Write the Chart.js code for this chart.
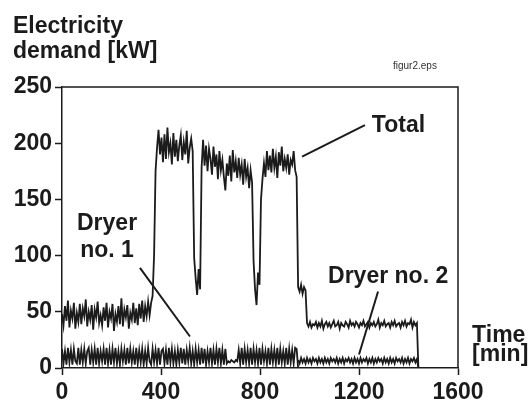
<!DOCTYPE html>
<html>
<head>
<meta charset="utf-8">
<script src="https://cdn.jsdelivr.net/npm/chart.js@4.4.1/dist/chart.umd.min.js"></script>
<style>
  body { margin: 0; background: #fff; }
  canvas { display: block; }
</style>
</head>
<body>
<canvas id="demandChart" width="528" height="403"></canvas>
<script>
// sample times [min] for total and dryer no. 1 (read every 6 min)
const sampleTimes = [
  0,6,12,18,24,30,36,42,48,54,
  60,66,72,78,84,90,96,102,108,114,
  120,126,132,138,144,150,156,162,168,174,
  180,186,192,198,204,210,216,222,228,234,
  240,246,252,258,264,270,276,282,288,294,
  300,306,312,318,324,330,336,342,348,354,
  360,366,372,378,384,390,396,402,408,414,
  420,426,432,438,444,450,456,462,468,474,
  480,486,492,498,504,510,516,522,528,534,
  540,546,552,558,564,570,576,582,588,594,
  600,606,612,618,624,630,636,642,648,654,
  660,666,672,678,684,690,696,702,708,714,
  720,726,732,738,744,750,756,762,768,774,
  780,786,792,798,804,810,816,822,828,834,
  840,846,852,858,864,870,876,882,888,894,
  900,906,912,918,924,930,936,942,948,954,
  960,966,972,978,984,990,996,1002,1008,1014,
  1020,1026,1032,1038,1044,1050,1056,1062,1068,1074,
  1080,1086,1092,1098,1104,1110,1116,1122,1128,1134,
  1140,1146,1152,1158,1164,1170,1176,1182,1188,1194,
  1200,1206,1212,1218,1224,1230,1236,1242,1248,1254,
  1260,1266,1272,1278,1284,1290,1296,1302,1308,1314,
  1320,1326,1332,1338,1344,1350,1356,1362,1368,1374,
  1380,1386,1392,1398,1404,1410,1416,1422,1428,1434,
  1440
];

// total demand [kW]
const totalDemand = [
  48,38,55,42,60,36,51,44,58,35,
  49,41,57,39,53,46,61,37,50,43,
  56,34,52,45,59,40,47,38,54,42,
  58,36,50,44,57,33,48,41,55,39,
  62,37,52,45,56,35,49,43,58,40,
  53,38,57,44,60,41,55,46,59,47,
  58,64,100,175,196,212,190,205,183,208,
  186,214,192,200,181,209,188,203,184,198,
  207,185,201,190,211,182,196,204,193,98,
  80,65,88,70,178,203,180,198,175,195,
  186,172,197,179,190,168,193,176,185,170,
  158,182,171,189,166,194,174,184,169,187,
  172,181,163,186,170,178,160,176,165,95,
  70,56,85,74,150,168,182,170,193,176,
  189,174,195,178,188,169,192,180,197,175,
  186,178,190,172,185,181,193,176,170,72,
  68,74,66,72,69,40,37,41,36,39,
  38,41,36,40,37,42,35,39,41,37,
  40,36,39,42,37,38,41,35,40,38,
  37,41,39,36,42,38,40,37,41,39,
  36,40,38,42,37,39,41,36,40,38,
  41,37,39,43,36,40,38,42,37,39,
  40,36,41,38,42,37,39,40,36,41,
  38,42,37,40,39,43,36,41,38,40,
  0
];

// dryer no. 1 [kW], runs until ~950 min
const dryer1Demand = [
  17,4,15,3,18,5,16,3,17,6,
  4,18,3,16,5,17,4,15,18,3,
  16,5,17,3,18,4,15,6,17,3,
  18,4,16,3,17,5,18,4,15,3,
  17,6,16,3,18,4,17,5,15,3,
  18,4,16,5,17,3,15,4,18,6,
  3,17,5,16,4,18,3,15,17,4,
  16,3,18,5,17,4,15,3,16,5,
  18,4,17,3,16,6,18,4,15,3,
  17,5,16,3,18,4,17,3,15,5,
  18,4,16,3,17,5,18,4,16,3,
  17,4,6,5,7,6,5,7,6,16,
  4,18,3,17,5,16,4,18,3,17,
  5,16,4,18,3,17,6,15,4,18,
  3,17,5,16,4,18,3,17,5,15,
  4,18,3,17,5,16,4,18,17,0
];

// dryer no. 2 [kW], runs from ~950 min
const dryer2Times = [
  954,960,966,972,978,984,990,996,1002,1008,
  1014,1020,1026,1032,1038,1044,1050,1056,1062,1068,
  1074,1080,1086,1092,1098,1104,1110,1116,1122,1128,
  1134,1140,1146,1152,1158,1164,1170,1176,1182,1188,
  1194,1200,1206,1212,1218,1224,1230,1236,1242,1248,
  1254,1260,1266,1272,1278,1284,1290,1296,1302,1308,
  1314,1320,1326,1332,1338,1344,1350,1356,1362,1368,
  1374,1380,1386,1392,1398,1404,1410,1416,1422,1428,
  1434,1440
];
const dryer2Demand = [
  7,4,9,5,8,4,9,5,8,4,
  9,6,8,4,9,5,8,4,9,5,
  8,4,9,6,8,5,9,4,8,5,
  9,4,8,6,9,5,8,4,9,5,
  8,4,9,5,8,6,9,4,8,5,
  9,4,8,5,9,6,8,4,9,5,
  8,4,9,5,8,4,9,6,8,5,
  9,4,8,5,9,4,8,6,9,5,
  8,0
];

const xTicks = [0, 400, 800, 1200, 1600];
const yTicks = [0, 50, 100, 150, 200, 250];

const ink = '#1b1b1b';
const fontFamily = '"Liberation Sans", Arial, Helvetica, sans-serif';
const boldFont = { family: fontFamily, size: 23, weight: 'bold' };

// text labels and pointer lines, placed in data units
const notes = [
  { text: 'Dryer', x: 182, y: 123, align: 'center' },
  { text: 'no. 1', x: 182, y: 99, align: 'center' },
  { text: 'Total', x: 1252, y: 210, align: 'left' },
  { text: 'Dryer no. 2', x: 1075, y: 75.5, align: 'left' },
  { text: 'Time', x: 1657, y: 23, align: 'left' },
  { text: '[min]', x: 1657, y: 6, align: 'left' }
];
const pointers = [
  { from: [315, 89], to: [517, 28] },
  { from: [1224, 216], to: [970, 188] },
  { from: [1277, 68], to: [1200, 12] }
];

const framePlugin = {
  id: 'frame',
  afterDraw(chart) {
    const { ctx, chartArea: a, scales } = chart;
    ctx.save();
    ctx.strokeStyle = ink;
    ctx.lineWidth = 1.5;
    ctx.beginPath();
    ctx.moveTo(a.left, a.top);
    ctx.lineTo(a.right, a.top);
    ctx.lineTo(a.right, a.bottom);
    ctx.stroke();

    // pointer lines
    ctx.lineWidth = 2;
    pointers.forEach(p => {
      ctx.beginPath();
      ctx.moveTo(scales.x.getPixelForValue(p.from[0]), scales.y.getPixelForValue(p.from[1]));
      ctx.lineTo(scales.x.getPixelForValue(p.to[0]), scales.y.getPixelForValue(p.to[1]));
      ctx.stroke();
    });

    ctx.fillStyle = ink;
    ctx.textBaseline = 'alphabetic';
    ctx.font = 'bold 23px ' + fontFamily;
    notes.forEach(n => {
      ctx.textAlign = n.align;
      ctx.fillText(n.text, scales.x.getPixelForValue(n.x), scales.y.getPixelForValue(n.y));
    });

    // axis title, top left
    ctx.textAlign = 'left';
    ctx.fillText('Electricity', 13, 33);
    ctx.fillText('demand [kW]', 13, 58);

    ctx.font = '10px ' + fontFamily;
    ctx.fillStyle = '#333';
    ctx.fillText('figur2.eps', 393, 69);
    ctx.restore();
  }
};

const lineStyle = {
  borderColor: ink,
  borderWidth: 1.8,
  pointRadius: 0,
  tension: 0,
  fill: false
};

new Chart(document.getElementById('demandChart'), {
  type: 'line',
  data: {
    labels: sampleTimes,
    datasets: [
      { label: 'Total', data: totalDemand, ...lineStyle },
      { label: 'Dryer no. 1', data: dryer1Demand, ...lineStyle },
      { label: 'Dryer no. 2', data: dryer2Times.map((t, i) => ({ x: t, y: dryer2Demand[i] })), ...lineStyle }
    ]
  },
  options: {
    responsive: false,
    animation: false,
    layout: { padding: { top: 87, right: 70, left: 0, bottom: 0 } },
    plugins: { legend: { display: false }, tooltip: { enabled: false } },
    scales: {
      x: {
        type: 'linear',
        min: 0,
        max: 1600,
        afterBuildTicks: s => { s.ticks = xTicks.map(v => ({ value: v })); },
        afterFit: s => { s.height = 35; },
        ticks: { font: boldFont, color: ink, padding: 4, maxRotation: 0, callback: v => String(v) },
        grid: { drawOnChartArea: false, tickLength: 7, color: ink, tickWidth: 1.5 },
        border: { color: ink, width: 1.5 }
      },
      y: {
        min: 0,
        max: 250,
        afterBuildTicks: s => { s.ticks = yTicks.map(v => ({ value: v })); },
        afterFit: s => { s.width = 62; },
        ticks: { font: boldFont, color: ink, padding: 3, callback: v => String(v) },
        grid: { drawOnChartArea: false, tickLength: 7, color: ink, tickWidth: 1.5 },
        border: { color: ink, width: 1.5 }
      }
    }
  },
  plugins: [framePlugin]
});
</script>
</body>
</html>
